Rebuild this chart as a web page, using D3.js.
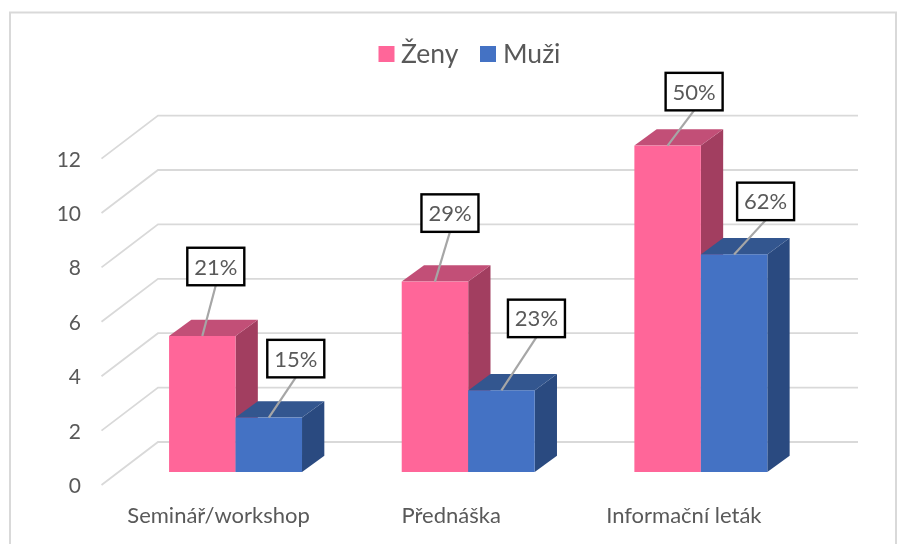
<!DOCTYPE html>
<html><head><meta charset="utf-8">
<style>html,body{margin:0;padding:0;background:#fff}svg{display:block;filter:blur(0.45px)}text{font-family:Lato,"Open Sans",sans-serif}</style>
<script src="https://cdn.jsdelivr.net/npm/d3@7"></script></head>
<body><svg id="c" width="905" height="544"></svg>
<script>
const categories = ["Seminář/workshop", "Přednáška", "Informační leták"];
const seriesNames = ["Ženy", "Muži"];
const zeny = [5, 7, 12];
const muzi = [2, 3, 8];
const zenyLabels = ["21%", "29%", "50%"];
const muziLabels = ["15%", "23%", "62%"];
const yTicks = [0, 2, 4, 6, 8, 10, 12];

// layout only
const colors = {Ženy:{front:"#FF6699",top:"#C24F77",side:"#A23E60"}, Muži:{front:"#4472C4",top:"#33568F",side:"#2A4A80"}};
const labelOffsets = {Ženy:[[13.5,-69.5],[15,-68.5],[26.5,-54]], Muži:[[27,-59],[35,-72],[31.5,-53]]};
const depth = {x:22.3, y:-16.3};
const grey = "#595959", gridC = "#D9D9D9";

const svg = d3.select("#c");
svg.append("rect").attr("x",10).attr("y",12.5).attr("width",886).attr("height",560)
  .attr("fill","#fff").attr("stroke","#D9D9D9").attr("stroke-width",2);

const y = d3.scaleLinear().domain([0,12]).range([472,145.6]);
const x0 = d3.scaleBand().domain(categories).range([119.2,817.2]).paddingInner(0.4285).paddingOuter(0.2143);
const x1 = d3.scaleBand().domain(seriesNames).range([0,x0.bandwidth()]);

// gridlines: side wall + back wall
const gridG = svg.append("g");
const backX0 = 158, backX1 = 858, sideX0 = 101.5;
yTicks.forEach(t=>{
  const fy = y(t)+13;
  const by = y(t)-30;
  gridG.append("path").attr("d",`M${sideX0},${fy}L${backX0},${by}L${backX1},${by}`)
    .attr("fill","none").attr("stroke",gridC).attr("stroke-width",1.8);
});

// y labels
svg.append("g").selectAll("text").data(yTicks).join("text")
  .attr("x",81).attr("y",d=>y(d)+13+8).attr("text-anchor","end")
  .attr("font-size",21).attr("fill",grey).text(d=>d);

// category labels
svg.append("g").selectAll("text").data(categories).join("text")
  .attr("x",d=>x0(d)+x0.bandwidth()/2-17).attr("y",523).attr("text-anchor","middle")
  .attr("font-size",22).attr("fill",grey).text(d=>d);

// bars
const bars = svg.append("g");
categories.forEach((c,i)=>{
  [["Ženy",zeny],["Muži",muzi]].forEach(([s,vals])=>{
    const bx = x0(c)+x1(s), w = x1.bandwidth(), t = y(vals[i]), b = y(0), col = colors[s];
    bars.append("path").attr("fill",col.side)
      .attr("d",`M${bx+w},${t}L${bx+w+depth.x},${t+depth.y}L${bx+w+depth.x},${b+depth.y}L${bx+w},${b}Z`);
    bars.append("path").attr("fill",col.top)
      .attr("d",`M${bx},${t}L${bx+depth.x},${t+depth.y}L${bx+w+depth.x},${t+depth.y}L${bx+w},${t}Z`);
    bars.append("rect").attr("x",bx).attr("y",t).attr("width",w).attr("height",b-t).attr("fill",col.front);
  });
});

// callouts
const callouts = svg.append("g");
const bw = 57, bh = 37.5;
categories.forEach((c,i)=>{
  [["Ženy",zeny,zenyLabels],["Muži",muzi,muziLabels]].forEach(([s,vals,labs])=>{
    const cx = x0(c)+x1(s)+x1.bandwidth()/2, t = y(vals[i]);
    const [dx,dy] = labelOffsets[s][i];
    const bxc = cx+dx, byc = t+dy;
    callouts.append("line").attr("x1",cx).attr("y1",t).attr("x2",bxc).attr("y2",byc+bh/2)
      .attr("stroke","#A6A6A6").attr("stroke-width",2.2);
    callouts.append("rect").attr("x",bxc-bw/2).attr("y",byc-bh/2).attr("width",bw).attr("height",bh)
      .attr("fill","#fff").attr("stroke","#000").attr("stroke-width",2.4);
    callouts.append("text").attr("x",bxc).attr("y",byc+8).attr("text-anchor","middle")
      .attr("font-size",22).attr("fill",grey).text(labs[i]);
  });
});

// legend
const legendX = [378.5, 480], legendTX = [401, 503];
const lg = svg.append("g");
seriesNames.forEach((s,i)=>{
  lg.append("rect").attr("x",legendX[i]).attr("y",46).attr("width",16).attr("height",16).attr("fill",colors[s].front);
  lg.append("text").attr("x",legendTX[i]).attr("y",63).attr("font-size",26.5).attr("fill",grey).text(s);
});
</script></body></html>
